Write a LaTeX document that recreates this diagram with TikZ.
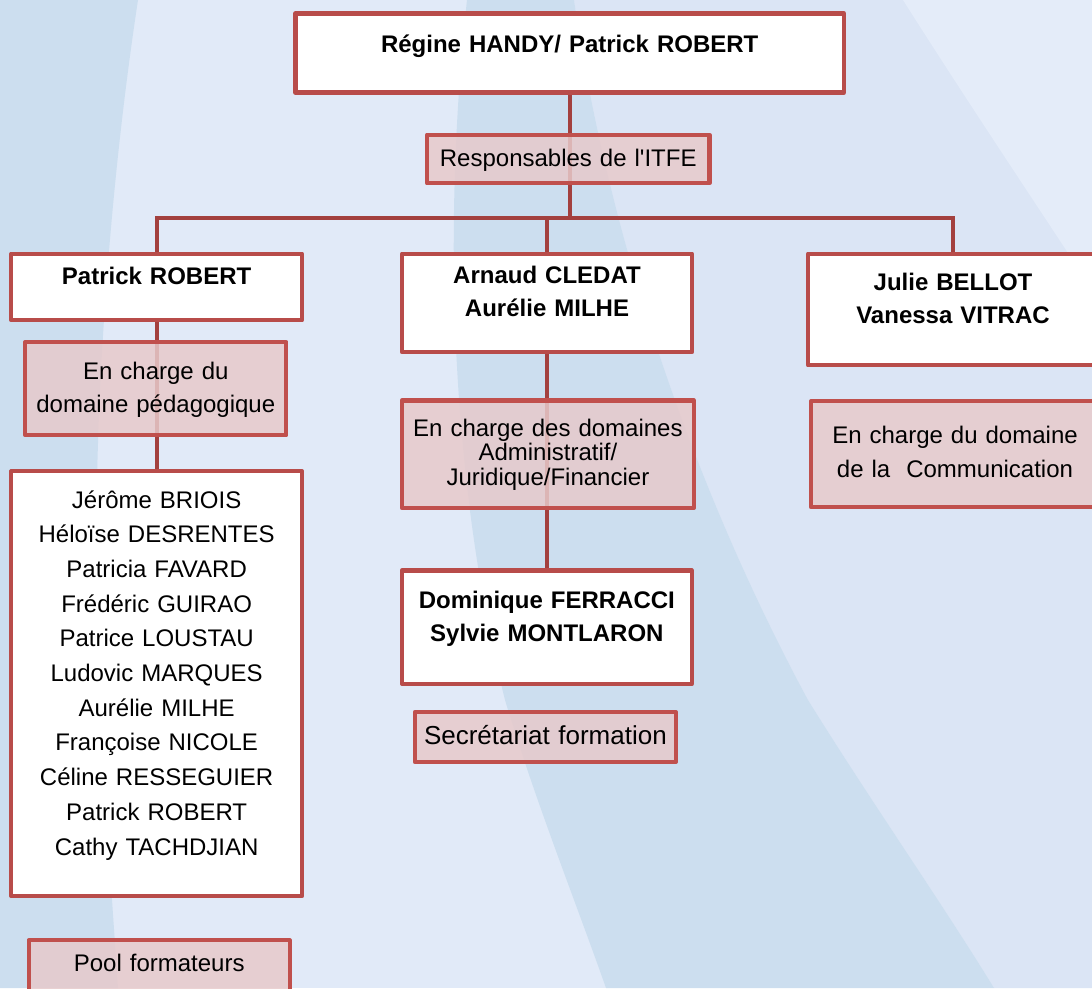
\documentclass[tikz,border=0pt]{standalone}
\usepackage{fontspec}
\setmainfont{Liberation Sans}
\usepackage{tikz}
\usepackage{color}

\definecolor{bandblue}{HTML}{CCDEEF}
\definecolor{paleblue}{HTML}{E1EAF8}
\definecolor{midblue}{HTML}{DBE5F5}
\definecolor{topblue}{HTML}{E4ECF9}
\definecolor{boxred}{HTML}{B84C4A}
\definecolor{tagred}{HTML}{C0504D}
\definecolor{tagfill}{HTML}{E7CACB}
\definecolor{linkred}{HTML}{A3403E}

\pgfdeclarelayer{bg}
\pgfdeclarelayer{links}
\pgfsetlayers{bg,links,main}

\begin{document}
\begin{tikzpicture}[x=1pt,y=-1pt,
        person/.style={draw=boxred,line width=4.3pt,line join=round,fill=white,inner sep=0pt,anchor=base,align=center,font=\bfseries\fontsize{24pt}{33.4pt}\selectfont},
        role/.style={draw=tagred,line width=4.3pt,line join=round,fill=tagfill,fill opacity=0.85,text opacity=1,inner sep=0pt,anchor=base,align=center,font=\fontsize{24pt}{33.3pt}\selectfont},
        link/.style={draw=linkred,line width=4.3pt}]
        \useasboundingbox (0,0) rectangle (1092,988);

        % background swooshes
        \begin{pgfonlayer}{bg}
        \fill[paleblue] (0,0) rectangle (1092,988);
        \fill[midblue] (574,0) .. controls (610,250) and (700,500) .. (808,700) .. controls (870,800) and (940,900) .. (994,988) -- (1092,988) -- (1092,0) -- cycle;
        \fill[topblue] (903,0) .. controls (960,90) and (1020,180) .. (1072,259) -- (1092,290) -- (1092,0) -- cycle;
        \fill[bandblue] (467,0) .. controls (440,250) and (455,500) .. (505,700) .. controls (535,800) and (575,900) .. (606,988) -- (994,988) .. controls (940,900) and (870,800) .. (808,700) .. controls (700,500) and (610,250) .. (574,0) -- cycle;
        \fill[bandblue] (0,0) -- (138,0) .. controls (100,250) and (85,550) .. (105,780) .. controls (110,880) and (115,940) .. (118,988) -- (0,988) -- cycle;
        \end{pgfonlayer}

        \coordinate (c0) at (569.75,52);
        \coordinate (c1) at (156.65,284.3);
        \coordinate (c2) at (547,283.3);
        \coordinate (c3) at (953,290);

        \node[person,text width=548.5pt,text height=38.5pt,text depth=40.5pt] (top) at (c0){Régine HANDY/ Patrick ROBERT};
        \node[role,text width=282.5pt,text height=31.8pt,text depth=16.8pt] (itfe) at (568.25,166.5){Responsables de l\textquotesingle ITFE};

        % left column
        \node[person,text width=290.7pt,text height=30.6pt,text depth=36pt] (robert) at (c1){Patrick ROBERT};
        \node[role,text width=261pt,text height=37pt,text depth=56.3pt] (peda) at (155.8,379){En charge du\\domaine pédagogique};
        \node[person,font=\fontsize{24pt}{34.67pt}\selectfont,text width=290.7pt,text height=37pt,text depth=387.7pt] (trainers) at (156.65,508.3){Jérôme BRIOIS\\Héloïse DESRENTES\\Patricia FAVARD\\Frédéric GUIRAO\\Patrice LOUSTAU\\Ludovic MARQUES\\Aurélie MILHE\\Françoise NICOLE\\Céline RESSEGUIER\\Patrick ROBERT\\Cathy TACHDJIAN};
        \node[role,text width=261pt,text height=31.4pt,text depth=28.3pt] (pool) at (159.2,971.7){Pool formateurs};

        % middle column
        \node[person,text width=290pt,text height=29.6pt,text depth=68.7pt] (cledat) at (c2){Arnaud CLEDAT\\Aurélie MILHE};
        \node[role,font=\fontsize{24pt}{24.2pt}\selectfont,text width=291.8pt,text height=36.2pt,text depth=71.3pt] (admin) at (547.9,436.7){En charge des domaines\\Administratif/\\Juridique/Financier};
        \node[person,text width=289.7pt,text height=37.8pt,text depth=75.5pt] (ferracci) at (546.85,608.3){Dominique FERRACCI\\Sylvie MONTLARON};
        \node[role,font=\fontsize{26pt}{30pt}\selectfont,text width=260.8pt,text height=32.3pt,text depth=17.7pt] (secretariat) at (545.4,744.3){Secrétariat formation};

        % right column
        \node[person,text width=290pt,text height=36.3pt,text depth=75.3pt] (bellot) at (c3){Julie BELLOT\\Vanessa VITRAC};
        \node[role,font=\fontsize{24pt}{34pt}\selectfont,text width=288pt,text height=42pt,text depth=63.7pt] (comm) at (955,443.3){En charge du domaine\\de la\ \ Communication};

        \begin{pgfonlayer}{links}
        \coordinate (bar) at (570,218);
        \draw[link] (top.south) -- (top.south |- bar);
        \draw[link] (robert.north) |- (bellot.north |- bar) -- (bellot.north);
        \draw[link] (cledat.north) -- (cledat.north |- bar);
        \draw[link] (robert.south) -- (trainers.north);
        \draw[link] (cledat.south) -- (cledat.south |- ferracci.north);
        \end{pgfonlayer}
    \end{tikzpicture}
\end{document}
